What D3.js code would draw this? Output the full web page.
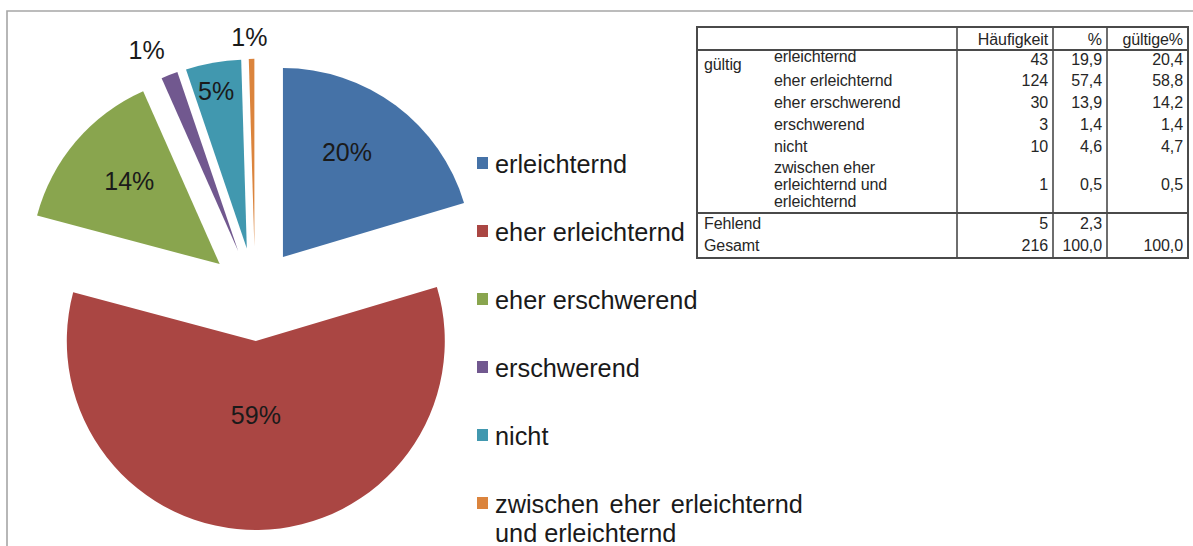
<!DOCTYPE html>
<html>
<head>
<meta charset="utf-8">
<script src="https://cdn.jsdelivr.net/npm/d3@7"></script>
<style>
  html, body { margin: 0; padding: 0; background: #fff; }
  svg { display: block; }
  text { font-family: "Liberation Sans", Arial, sans-serif; }
</style>
</head>
<body>
<svg id="chart" width="1193" height="546"></svg>
<script>
// ---- data ----
const categories = ["erleichternd", "eher erleichternd", "eher erschwerend", "erschwerend", "nicht", "zwischen eher erleichternd und erleichternd"];
const legendLines = [["erleichternd"], ["eher erleichternd"], ["eher erschwerend"], ["erschwerend"], ["nicht"], ["zwischen eher erleichternd", "und erleichternd"]];
const tableLabelLines = [["erleichternd"], ["eher erleichternd"], ["eher erschwerend"], ["erschwerend"], ["nicht"], ["zwischen eher", "erleichternd und", "erleichternd"]];
const counts = [43, 124, 30, 3, 10, 1];
const percents = [19.9, 57.4, 13.9, 1.4, 4.6, 0.5];
const validPercents = [20.4, 58.8, 14.2, 1.4, 4.7, 0.5];
const missingRow = { label: "Fehlend", count: 5, pct: 2.3, valid: null };
const totalRow = { label: "Gesamt", count: 216, pct: 100.0, valid: 100.0 };
const tableHeaders = ["Häufigkeit", "%", "gültige%"];
const groupLabel = "gültig";

// ---- style ----
const colors = ["#4572A7", "#AA4643", "#89A54E", "#71588F", "#4198AF", "#DB843D"];
const labelRadiusFrac = [0.65, 0.39, 0.65, 1.167, 0.85, 1.116];
const labelAngleShiftDeg = [-5.3, 0.8, 2.1, -3.2, -0.8, -0.5];

const svg = d3.select("#chart");

// frame
svg.append("path")
  .attr("d", "M7,546 L7,11 L1193,11")
  .attr("fill", "none")
  .attr("stroke", "#a6a6a6")
  .attr("stroke-width", 1.6);

// ---- pie ----
const cx = 255.1, cy = 294.4, R = 189, explode = 46.6;
const pie = d3.pie().sort(null).value(d => d)(counts);
const arc = d3.arc().innerRadius(0).outerRadius(R);
const g = svg.append("g").attr("transform", `translate(${cx},${cy})`);

pie.forEach((p, i) => {
  const mid = (p.startAngle + p.endAngle) / 2;
  const ox = explode * Math.sin(mid), oy = -explode * Math.cos(mid);
  g.append("path")
    .attr("d", arc(p))
    .attr("transform", `translate(${ox},${oy})`)
    .attr("fill", colors[i]);
  const la = mid + labelAngleShiftDeg[i] * Math.PI / 180;
  const lr = labelRadiusFrac[i] * R;
  g.append("text")
    .attr("x", ox + lr * Math.sin(la))
    .attr("y", oy - lr * Math.cos(la))
    .attr("dy", "0.36em")
    .attr("text-anchor", "middle")
    .attr("font-size", 25)
    .attr("fill", "#1a1a1a")
    .text(d3.format(".0f")(validPercents[i]) + "%");
});

// ---- legend ----
const legendY = d3.scalePoint().domain(d3.range(categories.length)).range([163, 503]);
const lg = svg.append("g");
categories.forEach((c, i) => {
  const y = legendY(i);
  lg.append("rect")
    .attr("x", 477).attr("y", y - 6)
    .attr("width", 11).attr("height", 12)
    .attr("fill", colors[i]);
  const t = lg.append("text")
    .attr("x", 495).attr("y", y + 9.5)
    .attr("font-size", 25.3)
    .attr("fill", "#1a1a1a");
  legendLines[i].forEach((ln, j) => {
    t.append("tspan")
      .attr("x", 495)
      .attr("dy", j === 0 ? 0 : 29)
      .attr("word-spacing", legendLines[i].length > 1 && j === 0 ? 3.5 : 0)
      .text(ln);
  });
});

// ---- table ----
const tb = svg.append("g");
const colX = [697, 957, 1053, 1107, 1188];
const rowTop = 27, headLine = 50, sepLine = 213, rowBottom = 258;
const lineColor = "#4a4a4a";
const fs = 16;
const tcol = "#262626";

tb.append("rect")
  .attr("x", colX[0]).attr("y", rowTop)
  .attr("width", colX[4] - colX[0]).attr("height", rowBottom - rowTop)
  .attr("fill", "#fff").attr("stroke", lineColor).attr("stroke-width", 2);
[1, 2, 3].forEach(k => {
  tb.append("line")
    .attr("x1", colX[k]).attr("x2", colX[k])
    .attr("y1", rowTop).attr("y2", rowBottom)
    .attr("stroke", lineColor).attr("stroke-width", 1.6);
});
[headLine, sepLine].forEach(y => {
  tb.append("line")
    .attr("x1", colX[0]).attr("x2", colX[4])
    .attr("y1", y).attr("y2", y)
    .attr("stroke", lineColor).attr("stroke-width", 2);
});

function cellText(x, y, s, anchor) {
  tb.append("text")
    .attr("x", x).attr("y", y)
    .attr("dy", "0.36em")
    .attr("text-anchor", anchor || "end")
    .attr("font-size", fs)
    .attr("fill", tcol)
    .attr("letter-spacing", -0.1)
    .text(s);
}
const fmt1 = v => d3.format(".1f")(v).replace(".", ",");
const numRight = [colX[2] - 5, colX[3] - 5, colX[4] - 5];

// header
tableHeaders.forEach((h, k) => cellText(numRight[k], 39, h));

// valid rows
const rowCenters = [59, 80, 102, 124, 146, 184];
cellText(704, 64, groupLabel, "start");
counts.forEach((c, i) => {
  const y = rowCenters[i];
  const lines = tableLabelLines[i];
  lines.forEach((ln, j) => {
    const ly = y + (j - (lines.length - 1) / 2) * 17 - (i === 0 ? 3 : 0);
    cellText(774, ly, ln, "start");
  });
  cellText(numRight[0], y, String(c));
  cellText(numRight[1], y, fmt1(percents[i]));
  cellText(numRight[2], y, fmt1(validPercents[i]));
});

// missing & total
[[missingRow, 223], [totalRow, 245]].forEach(([r, y]) => {
  cellText(704, y, r.label, "start");
  cellText(numRight[0], y, String(r.count));
  cellText(numRight[1], y, fmt1(r.pct));
  if (r.valid !== null) cellText(numRight[2], y, fmt1(r.valid));
});
</script>
</body>
</html>
